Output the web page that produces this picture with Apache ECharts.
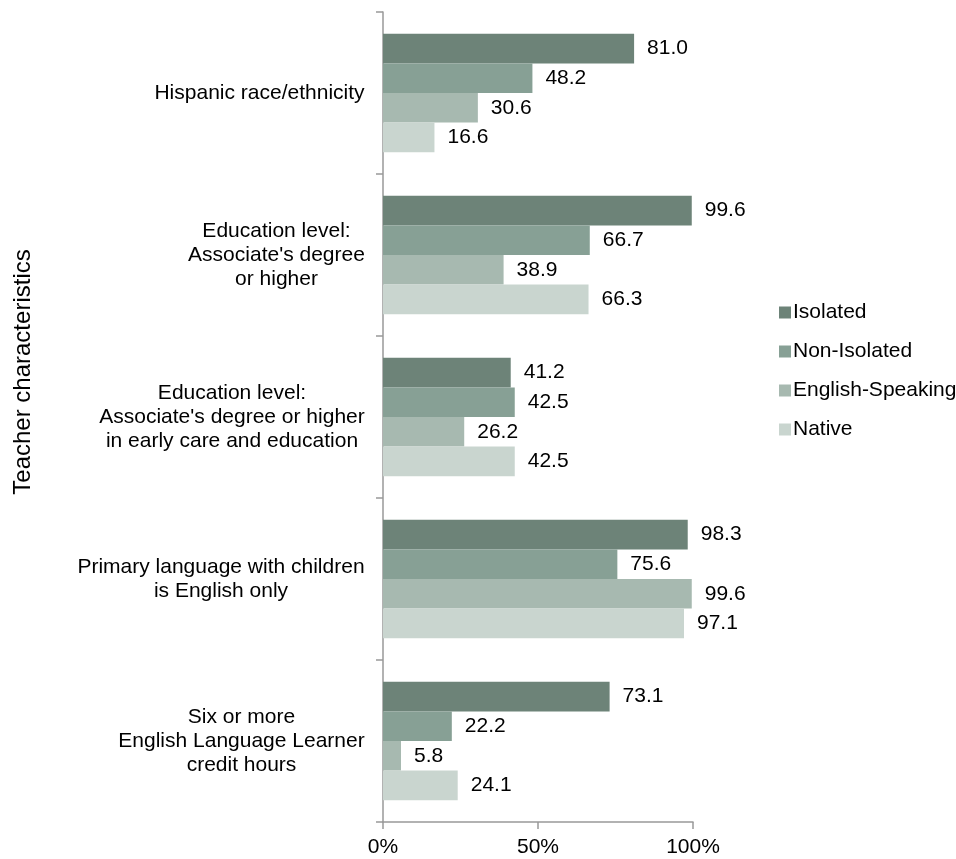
<!DOCTYPE html>
<html>
<head>
<meta charset="utf-8">
<script src="https://cdn.jsdelivr.net/npm/echarts@6/dist/echarts.min.js"></script>
<style>
  html, body { margin: 0; padding: 0; background: #fff; }
  #chart { width: 956px; height: 859px; }
</style>
</head>
<body>
<div id="chart"></div>
<script>
// Teacher characteristics by community type (percent)
const categories = [
  "Hispanic race/ethnicity",
  "Education level:\nAssociate's degree\nor higher",
  "Education level:\nAssociate's degree or higher\nin early care and education",
  "Primary language with children\nis English only",
  "Six or more\nEnglish Language Learner\ncredit hours"
];
const seriesNames = ["Isolated", "Non-Isolated", "English-Speaking", "Native"];
const isolated = [81.0, 99.6, 41.2, 98.3, 73.1];
const nonIsolated = [48.2, 66.7, 42.5, 75.6, 22.2];
const englishSpeaking = [30.6, 38.9, 26.2, 99.6, 5.8];
const native = [16.6, 66.3, 42.5, 97.1, 24.1];
const xTicks = [0, 50, 100];

const colors = ["#6d8378", "#87a095", "#a7b9b0", "#c9d5cf"];
const FONT = "Liberation Sans, Arial, sans-serif";
const FS = 21;

// Measure each category label so its lines can be centred within a right-aligned block
const ctx = document.createElement("canvas").getContext("2d");
ctx.font = FS + "px " + FONT;
const rich = {};
categories.forEach((c, i) => {
  const w = Math.max(...c.split("\n").map(l => ctx.measureText(l).width));
  rich["c" + i] = { width: Math.ceil(w), align: "center", fontSize: FS, lineHeight: 24, color: "#000", fontFamily: FONT };
});

const allData = [isolated, nonIsolated, englishSpeaking, native];

const chart = echarts.init(document.getElementById("chart"), null, { renderer: "canvas" });
chart.setOption({
  animation: false,
  textStyle: { fontFamily: FONT },
  legend: {
    orient: "vertical",
    left: 774,
    top: 297,
    itemWidth: 12,
    itemHeight: 12,
    itemGap: 18,
    icon: "rect",
    textStyle: { fontSize: FS, color: "#000", fontFamily: FONT, padding: [0, 0, 0, -3] },
    data: seriesNames
  },
  grid: { left: 383, right: 263, top: 12, bottom: 37, containLabel: false },
  xAxis: {
    type: "value",
    min: 0,
    max: 100,
    interval: 50,
    axisLine: { show: true, lineStyle: { color: "#999", width: 1.5 } },
    axisTick: { show: true, length: 7, lineStyle: { color: "#999", width: 1.5 } },
    splitLine: { show: false },
    axisLabel: {
      fontSize: FS, color: "#000", margin: 15,
      formatter: v => xTicks.includes(v) ? v + "%" : ""
    }
  },
  yAxis: {
    type: "category",
    inverse: true,
    data: categories,
    name: "Teacher characteristics",
    nameLocation: "middle",
    nameRotate: 90,
    nameGap: 348,
    nameTextStyle: { fontSize: 24, color: "#000", fontFamily: FONT, padding: [0, 0, 0, 90] },
    axisLine: { show: true, lineStyle: { color: "#999", width: 1.5 } },
    axisTick: { show: true, length: 7, alignWithLabel: false, lineStyle: { color: "#999", width: 1.5 } },
    axisLabel: {
      margin: 18,
      align: "right",
      formatter: (v, i) => v.split("\n").map(l => "{c" + i + "|" + l + "}").join("\n"),
      rich: rich
    }
  },
  series: seriesNames.map((name, k) => ({
    name: name,
    type: "bar",
    data: allData[k],
    barCategoryGap: "27%",
    barGap: "0%",
    itemStyle: { color: colors[k] },
    label: {
      show: true,
      position: "right",
      distance: 13,
      fontSize: FS,
      color: "#000",
      fontFamily: FONT,
      formatter: p => p.value.toFixed(1)
    }
  }))
});
</script>
</body>
</html>
